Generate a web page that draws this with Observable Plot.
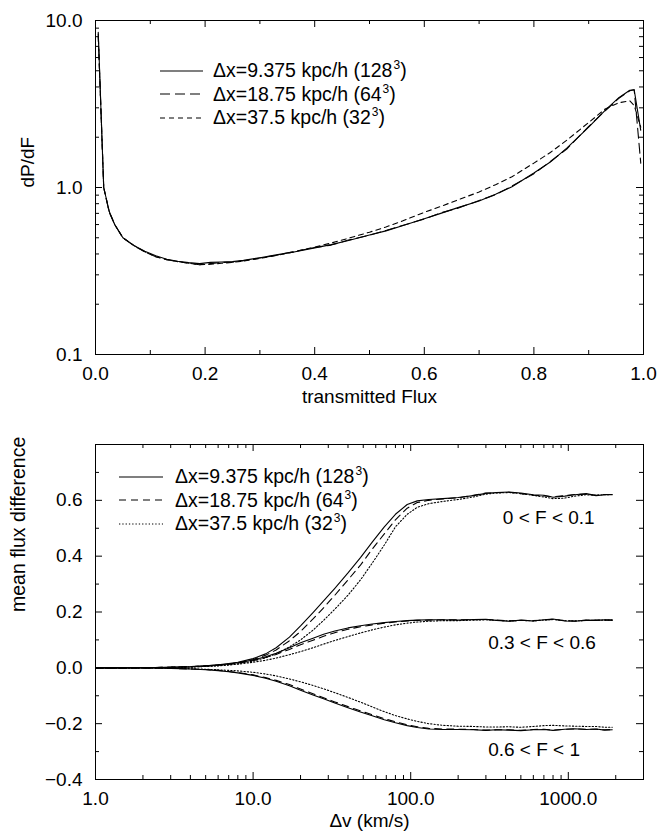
<!DOCTYPE html>
<html>
<head>
<meta charset="utf-8">
<script src="https://cdn.jsdelivr.net/npm/d3@7"></script>
<script src="https://cdn.jsdelivr.net/npm/@observablehq/plot@0.6"></script>
<style>
  html, body { margin: 0; padding: 0; background: white; }
  #wrap { position: relative; width: 671px; height: 831px; font-family: 'Liberation Sans', Arial, Helvetica, sans-serif; }
  .legend { position: absolute; font-size: 19.5px; color: black; }
  .legend .row { display: flex; align-items: center; height: 23.5px; white-space: nowrap; }
  .legend svg { display: block; flex: none; }
  .legend sup { font-size: 12px; vertical-align: 8px; line-height: 0; margin-left: 1px; }
</style>
</head>
<body>
<div id="wrap">
  <div id="topChart"></div>
  <div id="bottomChart"></div>
  <div class="legend" id="legTop" style="left:160px; top:59px"></div>
  <div class="legend" id="legBot" style="left:119px; top:465px"></div>
</div>
<script>
// ---------------- DATA ----------------
// Top panel: flux probability distribution dP/dF
const fluxF   = [0.005, 0.015, 0.025, 0.035, 0.05, 0.07, 0.09, 0.11, 0.13, 0.15, 0.17, 0.19, 0.21, 0.23, 0.25, 0.27, 0.3, 0.33, 0.36, 0.4, 0.43, 0.46, 0.5, 0.53, 0.56, 0.6, 0.63, 0.66, 0.7, 0.73, 0.76, 0.8, 0.83, 0.86, 0.9, 0.93, 0.955, 0.975, 0.983, 0.995];
const dpdf128 = [8.5, 1.0, 0.72, 0.6, 0.5, 0.45, 0.415, 0.39, 0.372, 0.362, 0.355, 0.35, 0.356, 0.358, 0.36, 0.366, 0.38, 0.395, 0.41, 0.435, 0.455, 0.48, 0.52, 0.55, 0.59, 0.65, 0.70, 0.755, 0.83, 0.91, 1.01, 1.22, 1.42, 1.72, 2.3, 2.9, 3.45, 3.82, 3.85, 2.2];
const dpdf64  = [8.3, 1.0, 0.71, 0.6, 0.5, 0.448, 0.412, 0.385, 0.37, 0.36, 0.352, 0.345, 0.35, 0.356, 0.357, 0.364, 0.378, 0.393, 0.412, 0.437, 0.452, 0.483, 0.518, 0.553, 0.592, 0.648, 0.705, 0.75, 0.835, 0.905, 1.02, 1.21, 1.43, 1.7, 2.32, 2.88, 3.42, 3.8, 3.85, 1.4];
const dpdf32  = [8.0, 1.0, 0.72, 0.6, 0.5, 0.45, 0.412, 0.385, 0.37, 0.36, 0.352, 0.345, 0.347, 0.352, 0.356, 0.363, 0.376, 0.392, 0.41, 0.44, 0.465, 0.495, 0.54, 0.58, 0.63, 0.71, 0.77, 0.84, 0.94, 1.04, 1.16, 1.4, 1.62, 1.92, 2.45, 2.95, 3.22, 3.3, 3.1, 2.3];

// Bottom panel: mean flux difference vs velocity separation
const dvKms = [1, 1.5, 2, 3, 4, 5, 6, 7, 8, 10, 12, 14, 17, 20, 24, 28, 33, 40, 48, 57, 68, 80, 95, 110, 130, 160, 200, 250, 300, 350, 420, 500, 600, 700, 800, 950, 1100, 1300, 1500, 1700, 1900];
// bin 0 < F < 0.1
const hi128 = [0, 0, 0.0005, 0.002, 0.004, 0.007, 0.011, 0.015, 0.02, 0.033, 0.05, 0.072, 0.11, 0.15, 0.198, 0.24, 0.285, 0.34, 0.395, 0.45, 0.505, 0.55, 0.585, 0.598, 0.603, 0.606, 0.61, 0.617, 0.625, 0.628, 0.63, 0.626, 0.62, 0.618, 0.611, 0.615, 0.62, 0.624, 0.617, 0.62, 0.62];
const hi64  = [0, 0, 0.0005, 0.002, 0.004, 0.007, 0.01, 0.014, 0.018, 0.03, 0.045, 0.064, 0.097, 0.13, 0.175, 0.215, 0.26, 0.315, 0.368, 0.425, 0.48, 0.53, 0.572, 0.592, 0.6, 0.605, 0.609, 0.618, 0.626, 0.627, 0.629, 0.624, 0.618, 0.616, 0.613, 0.617, 0.621, 0.622, 0.618, 0.621, 0.621];
const hi32  = [0, 0, 0.0004, 0.0015, 0.003, 0.005, 0.008, 0.011, 0.015, 0.024, 0.036, 0.05, 0.075, 0.1, 0.135, 0.17, 0.21, 0.26, 0.315, 0.375, 0.44, 0.505, 0.55, 0.575, 0.588, 0.596, 0.603, 0.612, 0.622, 0.626, 0.628, 0.624, 0.618, 0.612, 0.606, 0.608, 0.615, 0.62, 0.618, 0.62, 0.621];
// bin 0.3 < F < 0.6
const mid128 = [0, 0, 0.0005, 0.002, 0.004, 0.007, 0.01, 0.014, 0.018, 0.028, 0.04, 0.052, 0.072, 0.09, 0.106, 0.12, 0.132, 0.143, 0.151, 0.157, 0.162, 0.166, 0.169, 0.171, 0.172, 0.172, 0.171, 0.173, 0.174, 0.17, 0.167, 0.171, 0.168, 0.172, 0.175, 0.168, 0.167, 0.171, 0.17, 0.172, 0.171];
const mid64  = [0, 0, 0.0005, 0.002, 0.004, 0.007, 0.01, 0.013, 0.017, 0.026, 0.037, 0.048, 0.066, 0.083, 0.099, 0.113, 0.126, 0.138, 0.147, 0.154, 0.16, 0.164, 0.168, 0.17, 0.171, 0.172, 0.172, 0.172, 0.173, 0.171, 0.168, 0.17, 0.169, 0.171, 0.174, 0.169, 0.168, 0.17, 0.171, 0.171, 0.171];
const mid32  = [0, 0, 0.0004, 0.0015, 0.003, 0.005, 0.007, 0.01, 0.013, 0.02, 0.027, 0.035, 0.047, 0.058, 0.072, 0.085, 0.098, 0.112, 0.125, 0.136, 0.146, 0.154, 0.16, 0.164, 0.167, 0.169, 0.169, 0.171, 0.172, 0.17, 0.168, 0.17, 0.168, 0.171, 0.173, 0.169, 0.168, 0.17, 0.17, 0.171, 0.171];
// bin 0.6 < F < 1
const low128 = [0, 0, -0.0005, -0.002, -0.004, -0.007, -0.01, -0.014, -0.018, -0.027, -0.037, -0.048, -0.064, -0.08, -0.097, -0.111, -0.126, -0.143, -0.158, -0.172, -0.186, -0.197, -0.207, -0.214, -0.219, -0.221, -0.221, -0.222, -0.224, -0.222, -0.223, -0.225, -0.222, -0.221, -0.224, -0.22, -0.218, -0.221, -0.219, -0.223, -0.222];
const low64  = [0, 0, -0.0005, -0.002, -0.004, -0.006, -0.009, -0.013, -0.017, -0.025, -0.035, -0.045, -0.06, -0.076, -0.093, -0.107, -0.122, -0.139, -0.154, -0.168, -0.182, -0.193, -0.204, -0.211, -0.217, -0.219, -0.22, -0.221, -0.223, -0.222, -0.222, -0.224, -0.221, -0.22, -0.223, -0.22, -0.219, -0.22, -0.22, -0.222, -0.221];
const low32  = [0, 0, -0.0003, -0.001, -0.003, -0.005, -0.007, -0.009, -0.011, -0.016, -0.022, -0.029, -0.04, -0.05, -0.063, -0.075, -0.089, -0.106, -0.123, -0.14, -0.157, -0.171, -0.183, -0.192, -0.2, -0.206, -0.209, -0.21, -0.212, -0.212, -0.211, -0.213, -0.21, -0.207, -0.206, -0.208, -0.209, -0.21, -0.21, -0.213, -0.213];

const resLabels  = ["9.375", "18.75", "37.5"];
const gridLabels = ["128", "64", "32"];
const binLabels  = ["0 < F < 0.1", "0.3 < F < 0.6", "0.6 < F < 1"];
const binLabelX  = [384, 310, 310];
const binLabelY  = [0.536, 0.088, -0.294];

const topXMajor = [0, 0.2, 0.4, 0.6, 0.8, 1.0];
const topXMinor = [0.1, 0.3, 0.5, 0.7, 0.9];
const topYMajor = [0.1, 1, 10];
const topYMinor = [0.2, 0.3, 0.4, 0.5, 0.6, 0.7, 0.8, 0.9, 2, 3, 4, 5, 6, 7, 8, 9];
const botXMajor = [1, 10, 100, 1000];
const botXMinor = [2, 3, 4, 5, 6, 7, 8, 9, 20, 30, 40, 50, 60, 70, 80, 90, 200, 300, 400, 500, 600, 700, 800, 900, 2000, 3000];
const botYLabeled = [-0.4, -0.2, 0, 0.2, 0.4, 0.6];
const botYMajor = [-0.4, -0.2, 0, 0.2, 0.4, 0.6, 0.8];
const botYMinor = [-0.3, -0.1, 0.1, 0.3, 0.5, 0.7];

// ---------------- STYLE ----------------
const FONT = "'Liberation Sans', Arial, Helvetica, sans-serif";
const W = 671, ML = 95, MR = 28;
const TOP = {h: 420, mt: 20, mb: 66};
const BOT = {h: 411, mt: 24, mb: 52};
const topDash = ["none", "10,5", "5,4"];
const botDash = ["none", "7,5", "1.3,2"];

function frameTicks(xMajor, xMinor, yMajor, yMinor, fw, fh) {
  const MJ = 7, MN = 4, s = {stroke: "black", strokeWidth: 1};
  return [
    Plot.ruleX(xMajor, {...s, insetTop: fh - MJ}),
    Plot.ruleX(xMajor, {...s, insetBottom: fh - MJ}),
    Plot.ruleX(xMinor, {...s, insetTop: fh - MN}),
    Plot.ruleX(xMinor, {...s, insetBottom: fh - MN}),
    Plot.ruleY(yMajor, {...s, insetRight: fw - MJ}),
    Plot.ruleY(yMajor, {...s, insetLeft: fw - MJ}),
    Plot.ruleY(yMinor, {...s, insetRight: fw - MN}),
    Plot.ruleY(yMinor, {...s, insetLeft: fw - MN})
  ];
}
const fmt1 = d => d.toFixed(1).replace("-", "\u2212");

// ---------------- TOP PANEL ----------------
const topSeries = [dpdf128, dpdf64, dpdf32];
const topTables = topSeries.map(vals => fluxF.map((f, i) => ({F: f, p: vals[i]})));
const fwTop = W - ML - MR, fhTop = TOP.h - TOP.mt - TOP.mb;

const topPlot = Plot.plot({
  width: W, height: TOP.h,
  marginTop: TOP.mt, marginBottom: TOP.mb, marginLeft: ML, marginRight: MR,
  style: {fontFamily: FONT, fontSize: "19px", color: "black", background: "white"},
  x: {domain: [0, 1]},
  y: {type: "log", domain: [0.1, 10]},
  marks: [
    ...topTables.map((t, k) => Plot.line(t, {x: "F", y: "p", stroke: "black", strokeWidth: 1.1, strokeDasharray: topDash[k]})),
    Plot.frame({stroke: "black", strokeWidth: 1}),
    ...frameTicks(topXMajor, topXMinor, topYMajor, topYMinor, fwTop, fhTop),
    Plot.axisX({ticks: topXMajor, tickSize: 0, tickPadding: 12, tickFormat: fmt1, label: null}),
    Plot.axisY({ticks: topYMajor, tickSize: 0, tickPadding: 13, tickFormat: fmt1, label: null}),
    Plot.text(["dP/dF"], {text: d => d, frameAnchor: "left", rotate: -90, dx: -68}),
    Plot.text(["transmitted Flux"], {text: d => d, frameAnchor: "bottom", dy: 48})
  ]
});
document.getElementById("topChart").appendChild(topPlot);

// ---------------- BOTTOM PANEL ----------------
const botSeries = [[hi128, mid128, low128], [hi64, mid64, low64], [hi32, mid32, low32]];
const botTables = botSeries.map(group => group.flatMap((vals, b) => dvKms.map((v, i) => ({v, d: vals[i], bin: b}))));
const fwBot = W - ML - MR, fhBot = BOT.h - BOT.mt - BOT.mb;
const binTable = binLabels.map((t, i) => ({t, x: binLabelX[i], y: binLabelY[i]}));

const botPlot = Plot.plot({
  width: W, height: BOT.h,
  marginTop: BOT.mt, marginBottom: BOT.mb, marginLeft: ML, marginRight: MR,
  style: {fontFamily: FONT, fontSize: "19px", color: "black", background: "white"},
  x: {type: "log", domain: [1, 3000]},
  y: {domain: [-0.4, 0.8]},
  marks: [
    ...botTables.map((t, k) => Plot.line(t, {x: "v", y: "d", z: "bin", stroke: "black", strokeWidth: 1.1, strokeDasharray: botDash[k]})),
    Plot.frame({stroke: "black", strokeWidth: 1}),
    ...frameTicks(botXMajor, botXMinor, botYMajor, botYMinor, fwBot, fhBot),
    Plot.axisX({ticks: botXMajor, tickSize: 0, tickPadding: 12, tickFormat: fmt1, label: null}),
    Plot.axisY({ticks: botYLabeled, tickSize: 0, tickPadding: 13, tickFormat: fmt1, label: null}),
    Plot.text(binTable, {x: "x", y: "y", text: "t", textAnchor: "start"}),
    Plot.text(["mean flux difference"], {text: d => d, frameAnchor: "left", rotate: -90, dx: -77, fontSize: 19.5}),
    Plot.text(["\u0394v (km/s)"], {text: d => d, frameAnchor: "bottom", dy: 47})
  ]
});
document.getElementById("bottomChart").appendChild(botPlot);

// ---------------- LEGENDS ----------------
function buildLegend(el, dashes, lineW, gap) {
  resLabels.forEach((r, k) => {
    const row = document.createElement("div");
    row.className = "row";
    const ns = "http://www.w3.org/2000/svg";
    const svg = document.createElementNS(ns, "svg");
    svg.setAttribute("width", lineW); svg.setAttribute("height", 10);
    const ln = document.createElementNS(ns, "line");
    ln.setAttribute("x1", 0); ln.setAttribute("x2", lineW);
    ln.setAttribute("y1", 5); ln.setAttribute("y2", 5);
    ln.setAttribute("stroke", "black"); ln.setAttribute("stroke-width", 1.1);
    if (dashes[k] !== "none") ln.setAttribute("stroke-dasharray", dashes[k]);
    svg.appendChild(ln);
    row.appendChild(svg);
    const span = document.createElement("span");
    span.style.marginLeft = gap + "px";
    span.innerHTML = "\u0394x=" + r + " kpc/h (" + gridLabels[k] + "<sup>3</sup>)";
    row.appendChild(span);
    el.appendChild(row);
  });
}
buildLegend(document.getElementById("legTop"), topDash, 43, 10);
buildLegend(document.getElementById("legBot"), botDash, 44, 12);
</script>
</body>
</html>
